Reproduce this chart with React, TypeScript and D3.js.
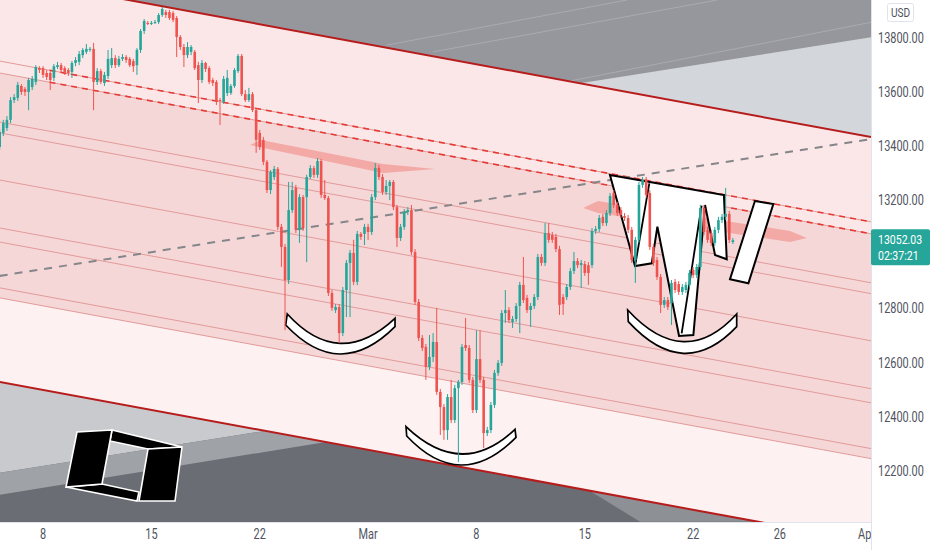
import React from 'react';
import * as d3 from 'd3';

// ---------- data ----------
const candlesPerDay = 6; // 4h candles, day 0 = Feb 4
const open = [
  13396,13448,13466,13496,13569,13577,13621,13610,13599,13617,
  13636,13687,13687,13669,13669,13651,13691,13698,13687,13680,
  13673,13706,13710,13735,13747,13754,13758,13636,13676,13632,
  13658,13698,13724,13698,13721,13728,13721,13713,13698,13754,
  13824,13854,13850,13854,13857,13883,13894,13894,13890,13872,
  13802,13765,13735,13747,13747,13698,13643,13706,13687,13643,
  13636,13569,13562,13595,13595,13621,13676,13732,13591,13569,
  13591,13532,13448,13422,13341,13237,13285,13315,13101,13027,
  12905,13163,13245,13090,13211,13211,13285,13318,13293,13344,
  13219,13208,12857,12794,12805,12709,12868,12968,13005,12898,
  13075,13075,13101,13082,13211,13318,13285,13230,13252,13267,
  13174,13060,13101,13156,13163,13008,12824,12691,12658,12584,
  12621,12676,12492,12436,12351,12473,12388,12506,12529,12665,
  12654,12536,12425,12613,12536,12340,12351,12444,12562,12599,
  12783,12794,12750,12761,12809,12887,12839,12794,12809,12842,
  12990,12968,13078,13071,13064,13019,12842,12842,12879,12938,
  12975,12960,12964,12960,12960,13086,13093,13138,13115,13152,
  13226,13182,13163,13141,13134,13090,12979,13053,13256,13274,
  13226,13027,12979,12916,12813,12831,12820,12898,12890,12861,
  12868,12887,12942,12923,12953,13171,13090,13078,13042,13090,
  13126,13138,13149,13045,
];
const high = [
  13462,13496,13510,13580,13591,13636,13628,13617,13651,13658,
  13698,13694,13694,13680,13676,13702,13710,13706,13694,13687,
  13713,13728,13750,13761,13776,13765,13780,13687,13684,13673,
  13754,13761,13735,13732,13739,13735,13728,13721,13761,13831,
  13868,13861,13861,13865,13890,13913,13902,13902,13898,13879,
  13809,13776,13783,13772,13754,13710,13717,13710,13694,13651,
  13643,13577,13658,13680,13628,13687,13739,13739,13606,13614,
  13599,13540,13459,13433,13348,13311,13326,13322,13112,13038,
  13267,13267,13256,13222,13219,13293,13329,13326,13355,13352,
  13274,13215,12868,12816,12816,12879,12979,13016,13053,13086,
  13082,13112,13112,13222,13337,13329,13296,13274,13274,13274,
  13182,13112,13167,13174,13182,13019,12835,12702,12669,12702,
  12709,12802,12503,12447,12484,12536,12518,12536,12669,12765,
  12665,12547,12720,12720,12547,12363,12455,12573,12610,12794,
  12868,12805,12772,12820,12898,12990,12850,12820,12853,13001,
  13001,13115,13115,13082,13075,13031,12853,12890,12949,13008,
  12986,12979,12975,12971,13097,13104,13145,13149,13163,13226,
  13237,13193,13174,13152,13145,13101,13064,13267,13285,13285,
  13237,13038,12990,12927,12842,12842,12905,12909,12901,12890,
  12898,12942,12953,12964,13182,13182,13101,13090,13101,13138,
  13149,13245,13160,13060,
];
const low = [
  13385,13436,13455,13484,13558,13566,13588,13584,13532,13606,
  13625,13669,13651,13643,13606,13639,13684,13669,13662,13658,
  13651,13694,13698,13724,13739,13747,13532,13625,13628,13621,
  13647,13687,13687,13691,13713,13706,13691,13673,13662,13743,
  13813,13846,13846,13850,13850,13876,13872,13865,13857,13728,
  13754,13691,13724,13735,13680,13558,13632,13673,13628,13621,
  13551,13477,13555,13584,13588,13614,13669,13584,13562,13562,
  13525,13374,13385,13329,13226,13222,13274,13090,12953,12720,
  12890,13152,13078,13042,13086,12971,13278,13282,13282,13208,
  13200,12846,12791,12783,12672,12698,12768,12768,12886,12886,
  13053,13034,13053,13071,13200,13274,13219,13219,13200,13163,
  13027,13049,13090,13145,12997,12813,12680,12643,12536,12573,
  12602,12481,12333,12315,12315,12377,12377,12233,12518,12643,
  12525,12414,12414,12525,12285,12329,12340,12433,12551,12588,
  12746,12746,12728,12750,12709,12820,12783,12732,12798,12831,
  12957,12957,13042,13042,13008,12776,12776,12831,12868,12927,
  12949,12876,12920,12887,12949,13075,13082,13104,13104,13141,
  13171,13141,13134,13123,13078,12968,12894,13042,13245,13208,
  13016,12957,12905,12783,12802,12794,12739,12857,12850,12850,
  12857,12876,12912,12912,12942,13071,13042,13031,13031,13078,
  13115,13126,13042,13038,
];
const close = [
  13451,13484,13496,13569,13580,13625,13599,13599,13643,13647,
  13691,13680,13662,13654,13643,13694,13698,13680,13673,13669,
  13706,13717,13739,13754,13758,13758,13636,13676,13636,13662,
  13721,13724,13698,13721,13728,13717,13698,13694,13754,13824,
  13861,13850,13854,13857,13883,13905,13883,13872,13865,13802,
  13765,13735,13765,13765,13687,13643,13706,13684,13636,13632,
  13562,13566,13647,13651,13621,13680,13732,13591,13569,13591,
  13532,13422,13396,13341,13237,13304,13315,13101,13027,12905,
  13163,13237,13090,13211,13097,13285,13318,13293,13344,13219,
  13208,12857,12802,12805,12709,12868,12968,13005,12898,13075,
  13064,13101,13082,13211,13318,13285,13230,13252,13267,13174,
  13060,13101,13156,13163,13008,12824,12691,12654,12584,12621,
  12676,12492,12436,12351,12473,12388,12506,12529,12658,12654,
  12536,12425,12613,12536,12340,12351,12444,12562,12599,12783,
  12794,12757,12761,12809,12887,12831,12794,12809,12842,12990,
  12968,13078,13053,13053,13019,12813,12816,12879,12938,12975,
  12960,12968,12931,12931,13086,13093,13134,13115,13152,13215,
  13182,13152,13145,13134,13090,12979,13053,13256,13274,13219,
  13027,12968,12916,12813,12831,12805,12894,12868,12861,12879,
  12887,12931,12923,12953,13171,13082,13053,13042,13090,13126,
  13138,13149,13053,13052.03,
];

const timeTickDays = [2, 7, 12, 17, 22, 27, 32, 36, 40];
const timeTickLabels = ['8', '15', '22', 'Mar', '8', '15', '22', '26', 'Apr'];
const priceTicks = [13800, 13600, 13400, 13200, 13000, 12800, 12600, 12400, 12200];
const lastPrice = 13052.03;
const countdown = '02:37:21';

// descending channel (price at day 0 and day 41)
const channelDays = [0, 41];
const upperRail = [14026, 13421];
const lowerRail = [12529, 11924];
const levelStart = [13713, 13669, 13488, 13448, 13274, 13097, 13045, 12876, 12839];
const levelEnd = [13108, 13064, 12883, 12843, 12669, 12492, 12440, 12271, 12234];
const dashedStartDay = 2.3;
const trendDays = [0, 41];
const trendPrices = [12920, 13435];

// grey areas outside channel
const topWedge = [[26.78, 13631], [41, 13811], [41, 13421]];
const topFaint = [
  [[17.86, 13772], [28.93, 13938]],
  [[19.99, 13747], [33.09, 13938]],
  [[26.16, 13637], [40.21, 13856]],
];
const botLight = [[0, 12529], [12.24, 12348], [0, 12193]];
const botMid = [[0, 12193], [12.24, 12348], [15.06, 12307], [0, 12112]];
const botWedge = [[27.24, 12126], [34.95, 12013], [29.55, 12013]];

// supply zones
const zone1 = [[11.55, 13403], [12.06, 13422], [17.69, 13333], [20.09, 13315], [17.69, 13300]];
const zone2 = [[26.92, 13171], [27.61, 13197], [36.47, 13086], [37.25, 13060], [36.47, 13045], [27.61, 13152]];

// drawn pattern shapes
const wShape = [
  [28.16, 13292.5], [29.32, 12956.6], [30.09, 12966.6], [30.35, 13101.7], [31.35, 12698.3],
  [32.01, 12702.0], [32.55, 13181.8], [33.01, 12997.2], [33.55, 12981.4], [33.42, 13218.7],
];
const wInnerLines = [
  [[29.32, 12956.6], [29.977, 13261.9]],
  [[31.47, 12708.2], [32.39, 13179.2]],
];
const slashShape = [[34.85, 13196.5], [35.70, 13185.5], [34.55, 12892.8], [33.70, 12907.6]];
const cupOuter = [
  [[13.198, 12738.9], [15.704, 12631.9], [18.242, 12732.6]],
  [[18.782, 12329.2], [21.288, 12222.2], [23.826, 12324.4]],
  [[29.008, 12751.1], [31.546, 12634.4], [34.01, 12732.6]],
];
const cupInner = [
  [[13.272, 12779.5], [15.704, 12671.3], [18.242, 12763.6]],
  [[18.75, 12363.5], [21.288, 12262.8], [23.78, 12353.9]],
  [[28.98, 12794.3], [31.546, 12677.3], [34.01, 12779.5]],
];

// author logo (pixel outline, watermark)
const logoBands = [
  [[112, 430], [182, 447], [148, 449], [110, 441]],
  [[66, 487], [102, 484], [139, 492], [137, 501]],
];
const logoFaces = [
  [[77, 432], [112, 430], [102, 484], [66, 487]],
  [[148, 449], [182, 447], [175, 501], [139, 501]],
];

const UP = '#26a69a';
const DOWN = '#ef5350';
const PLOT_R = 871;
const PLOT_B = 522;
const FONT = 'Roboto, "Liberation Sans", sans-serif';

export default function App() {
  const x = d3.scaleLinear().domain([0, 40]).range([-0.3, 866.5]);
  const y = d3.scaleLinear().domain([12200, 13800]).range([471, 37.5]);
  const pt = (p: number[]): [number, number] => [x(p[0]), y(p[1])];
  const poly = (pts: number[][]) => (d3.line()(pts.map(pt)) || '') + 'Z';
  const seg = (pts: number[][]) => d3.line()(pts.map(pt)) || '';

  const band = (a: number[], b: number[]) =>
    poly([[channelDays[0], a[0]], [channelDays[1], a[1]], [channelDays[1], b[1]], [channelDays[0], b[0]]]);

  const crescent = (o: number[][], inn: number[][]) => {
    const [Lo, Bo, Ro] = o.map(pt);
    const [Li, Bi, Ri] = inn.map(pt);
    const Co = [2 * Bo[0] - (Lo[0] + Ro[0]) / 2, 2 * Bo[1] - (Lo[1] + Ro[1]) / 2];
    const Ci = [2 * Bi[0] - (Li[0] + Ri[0]) / 2, 2 * Bi[1] - (Li[1] + Ri[1]) / 2];
    return `M${Li[0]},${Li[1]}L${Lo[0]},${Lo[1]}Q${Co[0]},${Co[1]} ${Ro[0]},${Ro[1]}L${Ri[0]},${Ri[1]}Q${Ci[0]},${Ci[1]} ${Li[0]},${Li[1]}Z`;
  };

  const lvl = (i: number) => [levelStart[i], levelEnd[i]];
  const levelAt = (i: number, d: number) =>
    d3.scaleLinear().domain(channelDays).range([levelStart[i], levelEnd[i]])(d);

  const bodyW = 2.6;
  const boxTop = y(lastPrice) - 11;
  const boxBottom = boxTop + 36;
  const visibleTicks = priceTicks.filter(p => {
    const yy = y(p);
    return yy + 6 < boxTop || yy - 6 > boxBottom;
  });

  return (
    <div>
      <style>{'body{margin:0;background:#fff}'}</style>
      <svg width={932} height={550} style={{ display: 'block', fontFamily: FONT }}>
        <defs>
          <clipPath id="plot">
            <rect x={0} y={0} width={PLOT_R} height={PLOT_B} />
          </clipPath>
          <clipPath id="taxis">
            <rect x={0} y={PLOT_B} width={PLOT_R} height={550 - PLOT_B} />
          </clipPath>
        </defs>
        <g clipPath="url(#plot)">
          <rect x={0} y={0} width={PLOT_R} height={PLOT_B} fill="#fbe8e8" />
          {/* top grey */}
          <path d={poly([[0, 14400], [41, 14400], [41, upperRail[1]], [0, upperRail[0]]])} fill="#95979c" />
          <path d={poly(topWedge)} fill="#d3d6da" />
          {topFaint.map((l, i) => (
            <path key={'tf' + i} d={seg(l)} stroke="#a9abb0" strokeWidth={1} fill="none" />
          ))}
          {/* channel fills */}
          <path d={band(upperRail, lvl(1))} fill="#fbe7e7" />
          <path d={band(lvl(1), lvl(8))} fill="#f5d7d7" />
          <path d={band(lvl(8), lowerRail)} fill="#fdf1f1" />
          {/* bottom grey */}
          <path d={poly([[0, lowerRail[0]], [41, lowerRail[1]], [41, 11700], [0, 11700]])} fill="#6a6d73" />
          <path d={poly(botLight)} fill="#c8cacd" />
          <path d={poly(botMid)} fill="#9fa2a7" />
          <path d={poly(botWedge)} fill="#8d9095" />
          {/* level lines */}
          {levelStart.map((_, i) => (
            <path key={'lv' + i} d={seg([[channelDays[0], levelStart[i]], [channelDays[1], levelEnd[i]]])}
              stroke="#e39a9a" strokeWidth={1} fill="none" />
          ))}
          {[0, 1].map(i => (
            <path key={'dl' + i} d={seg([[dashedStartDay, levelAt(i, dashedStartDay)], [channelDays[1], levelEnd[i]]])}
              stroke="#e53935" strokeWidth={1.6} strokeDasharray="6,5" fill="none" />
          ))}
          {/* rails */}
          <path d={seg([[channelDays[0], upperRail[0]], [channelDays[1], upperRail[1]]])} stroke="#b71c1c" strokeWidth={2} fill="none" />
          <path d={seg([[channelDays[0], lowerRail[0]], [channelDays[1], lowerRail[1]]])} stroke="#b71c1c" strokeWidth={2} fill="none" />
          {/* trend dashed grey */}
          <path d={seg([[trendDays[0], trendPrices[0]], [trendDays[1], trendPrices[1]]])}
            stroke="#85868a" strokeWidth={2} strokeDasharray="8,7" fill="none" />
          {/* zones */}
          <path d={poly(zone1)} fill="#f29a95" opacity={0.75} />
          <path d={poly(zone2)} fill="#f29a95" opacity={0.75} />
          {/* pattern shapes */}
          <path d={poly(wShape)} fill="#ffffff" stroke="#000" strokeWidth={2} strokeLinejoin="miter" />
          {wInnerLines.map((l, i) => (
            <path key={'wl' + i} d={seg(l)} stroke="#000" strokeWidth={1.8} fill="none" />
          ))}
          <path d={poly(slashShape)} fill="#ffffff" stroke="#000" strokeWidth={2} />
          {cupOuter.map((o, i) => (
            <path key={'cup' + i} d={crescent(o, cupInner[i])} fill="#ffffff" stroke="#000" strokeWidth={1.7} />
          ))}
          {/* candles */}
          {open.map((o, i) => {
            const c = close[i];
            const cx = x(i / candlesPerDay);
            const col = c >= o ? UP : DOWN;
            const yt = y(Math.max(o, c));
            const yb = y(Math.min(o, c));
            return (
              <g key={'c' + i}>
                <line x1={cx} x2={cx} y1={y(high[i])} y2={y(low[i])} stroke={col} strokeWidth={1} />
                <rect x={cx - bodyW / 2} y={yt} width={bodyW} height={Math.max(1, yb - yt)} fill={col} />
              </g>
            );
          })}
          {/* logo */}
          {logoBands.concat(logoFaces).map((p, i) => (
            <polygon key={'lg' + i} points={p.map(q => q.join(',')).join(' ')} fill="#000" stroke="#fff" strokeWidth={1.6} />
          ))}
        </g>

        {/* axes panels */}
        <rect x={PLOT_R} y={0} width={932 - PLOT_R} height={550} fill="#fff" />
        <rect x={0} y={PLOT_B} width={PLOT_R} height={550 - PLOT_B} fill="#fff" />
        <line x1={PLOT_R + 0.5} x2={PLOT_R + 0.5} y1={0} y2={550} stroke="#e0e3eb" />
        <line x1={0} x2={PLOT_R} y1={PLOT_B + 0.5} y2={PLOT_B + 0.5} stroke="#e0e3eb" />

        {visibleTicks.map(p => (
          <text key={'pt' + p} transform={`translate(878,${y(p) + 5}) scale(0.78,1)`} fontSize={14} fill="#50535e">
            {p.toFixed(2)}
          </text>
        ))}
        <rect x={887.5} y={3.5} width={26} height={18} rx={2} fill="#fff" stroke="#e0e3eb" />
        <text transform="translate(900.5,17) scale(0.78,1)" textAnchor="middle" fontSize={13} fill="#50535e">USD</text>

        <rect x={PLOT_R} y={boxTop} width={59} height={36} rx={2} fill={UP} />
        <text transform={`translate(878,${y(lastPrice) + 4}) scale(0.78,1)`} fontSize={13.5} fill="#fff">{lastPrice.toFixed(2)}</text>
        <text transform={`translate(878,${y(lastPrice) + 20}) scale(0.78,1)`} fontSize={13.5} fill="#fff">{countdown}</text>

        <g clipPath="url(#taxis)">
          {timeTickDays.map((d, i) => (
            <text key={'tt' + i} transform={`translate(${x(d)},539) scale(0.78,1)`} textAnchor="middle" fontSize={14} fill="#50535e">
              {timeTickLabels[i]}
            </text>
          ))}
        </g>
      </svg>
    </div>
  );
}
